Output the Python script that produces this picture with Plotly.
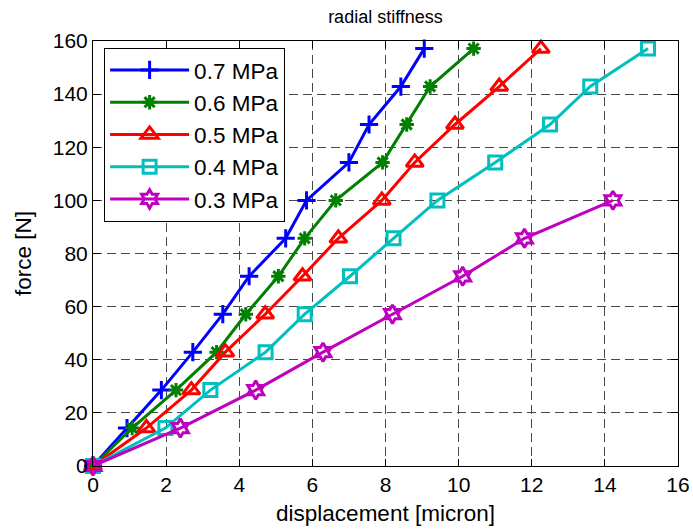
import plotly.graph_objects as go

# Force levels (N)
force = [0, 14.29, 28.57, 42.86, 57.14, 71.43, 85.71, 100, 114.29, 128.57, 142.86, 157.14]
force_03 = force[:8]

# Displacements (micron) per supply pressure
disp_07 = [0, 0.93, 1.87, 2.73, 3.55, 4.27, 5.27, 5.84, 7.00, 7.55, 8.42, 9.06]
disp_06 = [0, 1.07, 2.27, 3.38, 4.18, 5.07, 5.79, 6.64, 7.92, 8.58, 9.22, 10.41]
disp_05 = [0, 1.46, 2.69, 3.62, 4.71, 5.73, 6.71, 7.90, 8.80, 9.90, 11.11, 12.25]
disp_04 = [0, 1.98, 3.21, 4.72, 5.79, 7.03, 8.22, 9.42, 11.00, 12.50, 13.60, 15.18]
disp_03 = [0, 2.39, 4.45, 6.29, 8.19, 10.11, 11.80, 14.22]

labels = ["0.7 MPa", "0.6 MPa", "0.5 MPa", "0.4 MPa", "0.3 MPa"]
x_ticks = [0, 2, 4, 6, 8, 10, 12, 14, 16]
y_ticks = [0, 20, 40, 60, 80, 100, 120, 140, 160]

FONT = "Liberation Sans, Arial, sans-serif"

series = [
    (disp_07, force, labels[0], "#0000FF", "cross-thin-open", 13),
    (disp_06, force, labels[1], "#008000", "asterisk-open", 12),
    (disp_05, force, labels[2], "#FF0000", "triangle-up-open", 15),
    (disp_04, force, labels[3], "#00BFBF", "square-open", 13),
    (disp_03, force_03, labels[4], "#BF00BF", "hexagram-open", 14),
]

fig = go.Figure()
for xs, ys, name, color, sym, size in series:
    fig.add_trace(go.Scatter(
        x=xs, y=ys, name=name, mode="lines+markers",
        line=dict(color=color, width=3),
        marker=dict(symbol=sym, size=size, color=color,
                    line=dict(color=color, width=3)),
        cliponaxis=False,
    ))

axis_common = dict(
    showline=True, linecolor="black", linewidth=1, mirror="ticks",
    ticks="inside", ticklen=7, tickcolor="black",
    showgrid=True, gridcolor="#484848", griddash="9px,5px", gridwidth=1,
    zeroline=False, automargin=False,
    tickfont=dict(family=FONT, size=21, color="black"),
)

fig.update_layout(
    width=693, height=531,
    margin=dict(l=93, r=15, t=41, b=65),
    paper_bgcolor="white", plot_bgcolor="white",
    title=dict(text="radial stiffness", x=0.5, xref="paper",
               y=1 - 17 / 531, yref="container", yanchor="middle",
               font=dict(family=FONT, size=18, color="black")),
    xaxis=dict(range=[0, 16], tickvals=x_ticks,
               title=dict(text="displacement [micron]", standoff=10,
                          font=dict(family=FONT, size=22.5, color="black")),
               **axis_common),
    yaxis=dict(range=[0, 160], tickvals=y_ticks,
               title=dict(text="force [N]", standoff=14,
                          font=dict(family=FONT, size=22.5, color="black")),
               **axis_common),
    legend=dict(x=0.019, y=0.984, xanchor="left", yanchor="top",
                bgcolor="white", bordercolor="black", borderwidth=1,
                font=dict(family=FONT, size=22.5, color="black"),
                itemwidth=79),
    showlegend=True,
)

fig.write_html("out.html")
